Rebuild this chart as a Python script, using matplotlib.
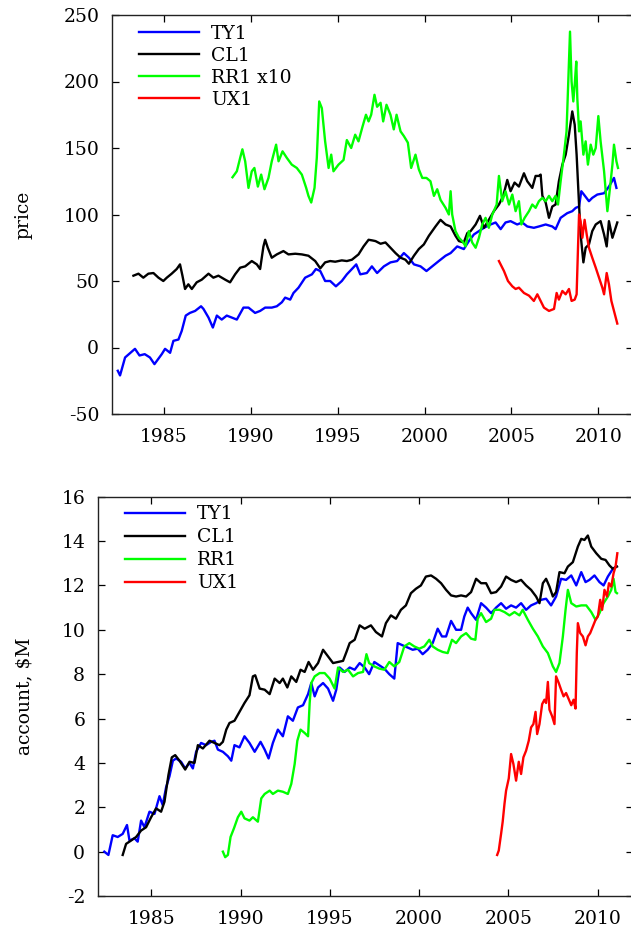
import matplotlib
matplotlib.use("Agg")
import matplotlib.pyplot as plt

# ---------------- data: top panel (price) ----------------
ty1_p_x = [1982.35, 1982.48, 1982.77, 1983.34, 1983.6, 1983.9, 1984.2, 1984.46, 1984.88, 1985.07,
           1985.36, 1985.55, 1985.84, 1986.03, 1986.26, 1986.5, 1986.8, 1987.14, 1987.28, 1987.57,
           1987.82, 1988.05, 1988.33, 1988.62, 1988.91, 1989.2, 1989.58, 1989.87, 1990.25, 1990.54,
           1990.83, 1991.21, 1991.5, 1991.79, 1991.98, 1992.27, 1992.46, 1992.75, 1993.13, 1993.52,
           1993.75, 1994.0, 1994.28, 1994.57, 1994.9, 1995.24, 1995.53, 1995.82, 1996.07, 1996.3,
           1996.68, 1996.97, 1997.27, 1997.66, 1998.04, 1998.42, 1998.81, 1999.1, 1999.39, 1999.77,
           2000.11, 2000.44, 2000.82, 2001.21, 2001.5, 2001.88, 2002.26, 2002.55, 2002.84, 2003.13,
           2003.42, 2003.8, 2004.09, 2004.38, 2004.66, 2004.95, 2005.33, 2005.62, 2005.91, 2006.29,
           2006.58, 2006.97, 2007.35, 2007.54, 2007.83, 2008.21, 2008.5, 2008.7, 2008.89, 2009.02,
           2009.17, 2009.46, 2009.65, 2009.94, 2010.33, 2010.61, 2010.9, 2011.04]
ty1_p_y = [-17.5, -21, -7.5, -1, -6, -5, -7.5, -12.5, -5, -1,
           -4, 5, 6, 12.5, 24, 26, 27.5, 31, 29, 22.5,
           15, 24, 21, 24, 22.5, 21, 30, 30, 26, 27.5,
           30, 30, 31, 34, 37.5, 36, 41, 45, 52.5, 55,
           59, 57.5, 50, 50, 46, 50, 55, 59, 62.5, 55,
           56, 61, 56, 61, 64, 65, 71, 67.5, 62.5, 61,
           57.5, 61, 65, 69, 71, 76, 74, 80, 85, 87.5,
           90, 92.5, 94, 89, 94, 95, 92.5, 94, 91, 90,
           91, 92.5, 91, 89, 97.5, 101, 102.5, 105, 106, 117.5,
           115, 110, 112.5, 115, 116, 121, 127.5, 120]

cl1_p_x = [1983.25, 1983.54, 1983.82, 1984.11, 1984.4, 1984.69, 1984.97, 1985.17, 1985.45, 1985.74,
           1985.93, 1986.07, 1986.22, 1986.41, 1986.61, 1986.89, 1987.18, 1987.57, 1987.85, 1988.14,
           1988.53, 1988.81, 1989.1, 1989.39, 1989.68, 1990.06, 1990.35, 1990.54, 1990.73, 1990.83,
           1990.98, 1991.21, 1991.5, 1991.88, 1992.17, 1992.56, 1992.94, 1993.32, 1993.71, 1994.0,
           1994.28, 1994.57, 1994.86, 1995.24, 1995.53, 1995.82, 1996.2, 1996.49, 1996.78, 1997.0,
           1997.18, 1997.47, 1997.75, 1998.04, 1998.33, 1998.62, 1998.9, 1999.1, 1999.39, 1999.67,
           1999.96, 2000.25, 2000.63, 2000.92, 2001.21, 2001.5, 2001.78, 2001.98, 2002.26, 2002.46,
           2002.65, 2002.94, 2003.19, 2003.42, 2003.7, 2003.99, 2004.28, 2004.53, 2004.76, 2004.95,
           2005.18, 2005.43, 2005.72, 2005.91, 2006.2, 2006.39, 2006.58, 2006.68, 2006.78, 2006.97,
           2007.16, 2007.35, 2007.54, 2007.73, 2007.93, 2008.12, 2008.31, 2008.5, 2008.64, 2008.75,
           2008.89, 2008.98, 2009.14, 2009.27, 2009.46, 2009.65, 2009.85, 2010.13, 2010.33, 2010.48,
           2010.61, 2010.81, 2011.09]
cl1_p_y = [54, 55.5, 52.5, 55.5, 56, 52.5, 50, 52.5, 55.5, 59,
           62.5, 54, 44, 47.5, 44, 49, 51, 55.5, 52.5, 54,
           51, 49, 55, 60, 61, 65, 62.5, 59, 76, 81,
           75, 67.5, 70, 72.5, 70, 70.5, 70, 69, 65, 59.5,
           64, 65, 64.5, 65.5, 65, 66, 70, 76, 81, 80.5,
           80, 78, 79, 75, 71, 67.5, 66, 63, 69, 74,
           77.5, 84, 91, 96, 92.5, 91, 84, 80, 79, 86,
           87.5, 92.5, 99, 90, 96, 102.5, 107.5, 114, 126, 117.5,
           124, 121, 131, 125, 120, 129, 129, 130, 114, 109,
           97.5, 106, 107.5, 125, 137.5, 145, 160, 177.5, 167.5, 145,
           107.5, 85, 64, 75, 77.5, 87.5, 92.5, 95, 85, 76,
           95, 82.5, 94]

rr1_p_x = [1988.95, 1989.2, 1989.39, 1989.52, 1989.68, 1989.87, 1990.06, 1990.21, 1990.41, 1990.6,
           1990.79, 1991.02, 1991.21, 1991.46, 1991.6, 1991.83, 1992.08, 1992.36, 1992.65, 1992.94,
           1993.19, 1993.32, 1993.48, 1993.67, 1993.8, 1993.94, 1994.09, 1994.28, 1994.48, 1994.63,
           1994.76, 1995.05, 1995.34, 1995.53, 1995.78, 1996.01, 1996.2, 1996.43, 1996.63, 1996.78,
           1996.93, 1997.12, 1997.27, 1997.47, 1997.62, 1997.81, 1998.04, 1998.23, 1998.39, 1998.62,
           1998.81, 1999.04, 1999.23, 1999.48, 1999.67, 1999.87, 2000.11, 2000.34, 2000.54, 2000.73,
           2000.92, 2001.21, 2001.4, 2001.5, 2001.59, 2001.78, 2001.98, 2002.23, 2002.36, 2002.55,
           2002.74, 2002.94, 2003.13, 2003.32, 2003.51, 2003.7, 2003.9, 2004.15, 2004.28, 2004.47,
           2004.66, 2004.86, 2005.05, 2005.24, 2005.43, 2005.57, 2005.76, 2006.01, 2006.2, 2006.39,
           2006.58, 2006.78, 2006.97, 2007.16, 2007.35, 2007.54, 2007.68, 2007.83, 2008.02, 2008.17,
           2008.27, 2008.37, 2008.46, 2008.56, 2008.64, 2008.73, 2008.79, 2008.89, 2008.98, 2009.14,
           2009.27, 2009.4, 2009.56, 2009.71, 2009.85, 2010.0, 2010.13, 2010.33, 2010.52, 2010.67,
           2010.81, 2010.9, 2011.04, 2011.13]
rr1_p_y = [128, 132.5, 142.5, 149, 140, 120, 132.5, 135, 121, 130,
           119, 127.5, 140, 152.5, 140, 147.5, 142.5, 137.5, 135, 130,
           120, 114, 109, 120, 142.5, 185, 180, 155, 135, 145,
           132.5, 137.5, 141, 156, 150, 160, 155, 166, 175, 170,
           175, 190, 181, 184, 170, 182.5, 175, 164, 175, 162.5,
           159, 154, 135, 145, 134, 127.5, 127.5, 125, 114, 119,
           111, 105, 100, 117.5, 100, 87.5, 82.5, 79, 76, 87.5,
           79, 75, 82.5, 92.5, 97.5, 90, 100, 107.5, 129, 110,
           117.5, 107.5, 115, 102.5, 110, 92.5, 97.5, 102.5, 107.5, 105,
           110, 112.5, 110, 114, 110, 114, 107.5, 125, 145, 162.5,
           200, 237.5, 200, 185, 197.5, 215, 187.5, 162.5, 170, 145,
           155, 137.5, 152.5, 145, 150, 174, 155, 132.5, 102.5, 120,
           137.5, 152.5, 140, 135]

ux1_p_x = [2004.28, 2004.57, 2004.8, 2005.05, 2005.24, 2005.43, 2005.72, 2006.01, 2006.29, 2006.49,
           2006.68, 2006.87, 2007.16, 2007.45, 2007.6, 2007.73, 2007.93, 2008.12, 2008.31, 2008.46,
           2008.64, 2008.75, 2008.83, 2008.89, 2008.98, 2009.08, 2009.21, 2009.33, 2009.46, 2009.65,
           2009.85, 2010.04, 2010.23, 2010.33, 2010.48, 2010.61, 2010.75, 2010.9, 2011.09]
ux1_p_y = [65, 57.5, 50, 46, 44, 45, 41, 39, 35, 40,
           35, 30, 27.5, 29, 41, 36, 42.5, 40, 44, 35,
           36, 40, 75, 100, 95, 82.5, 96, 85, 75, 67.5,
           60, 52.5, 45, 40, 56, 47.5, 35, 27.5, 18]

# ---------------- data: bottom panel (account, $M) ----------------
ty1_a_x = [1982.37, 1982.6, 1982.84, 1983.12, 1983.4, 1983.64, 1983.78, 1984.06, 1984.24, 1984.43,
           1984.62, 1984.9, 1985.18, 1985.46, 1985.64, 1985.83, 1986.02, 1986.21, 1986.39, 1986.67,
           1986.9, 1987.14, 1987.33, 1987.51, 1987.79, 1988.07, 1988.36, 1988.54, 1988.73, 1989.01,
           1989.29, 1989.48, 1989.66, 1989.94, 1990.22, 1990.5, 1990.79, 1991.12, 1991.35, 1991.57,
           1991.81, 1992.09, 1992.37, 1992.65, 1992.93, 1993.21, 1993.5, 1993.78, 1993.96, 1994.15,
           1994.34, 1994.62, 1994.9, 1995.18, 1995.36, 1995.55, 1995.83, 1996.11, 1996.39, 1996.67,
           1996.95, 1997.2, 1997.49, 1997.77, 1998.05, 1998.33, 1998.61, 1998.8, 1999.08, 1999.36,
           1999.64, 1999.92, 2000.2, 2000.48, 2000.76, 2001.04, 2001.28, 2001.51, 2001.79, 2002.07,
           2002.35, 2002.53, 2002.72, 2002.91, 2003.19, 2003.47, 2003.75, 2004.03, 2004.31, 2004.59,
           2004.87, 2005.15, 2005.43, 2005.71, 2005.99, 2006.27, 2006.55, 2006.83, 2007.11, 2007.39,
           2007.67, 2007.95, 2008.23, 2008.52, 2008.8, 2009.08, 2009.32, 2009.54, 2009.82, 2010.1,
           2010.33, 2010.57, 2010.85, 2011.04]
ty1_a_y = [0, -0.15, 0.74, 0.66, 0.8, 1.2, 0.5, 0.6, 0.45, 1.4,
           1.1, 1.8, 1.7, 2.5, 2.1, 2.9, 3.4, 4.1, 4.2, 4.05,
           3.75, 4.0, 3.75, 4.5, 4.9, 4.8, 4.95, 5.0, 4.6, 4.5,
           4.3, 4.1, 4.8, 4.7, 5.2, 4.9, 4.5, 4.95, 4.6, 4.2,
           4.9, 5.5, 5.2, 6.1, 5.9, 6.5, 6.6, 7.1, 7.6, 7.0,
           7.4, 7.6, 7.35, 6.8, 7.3, 8.3, 8.1, 8.3, 8.2, 8.5,
           8.3, 8.0, 8.55, 8.4, 8.25, 8.0, 7.8, 9.4, 9.3, 9.2,
           9.1, 9.15, 8.9, 9.1, 9.4, 10.05, 9.7, 9.7, 10.4, 10.0,
           10.0, 10.6, 11.0, 10.75, 10.45, 11.2, 11.0, 10.75, 11.0, 11.2,
           10.95, 11.1, 11.0, 11.2, 10.9, 11.1, 11.2, 11.35, 11.4, 11.1,
           11.5, 12.3, 12.25, 12.45, 12.0, 12.6, 12.15, 12.25, 12.45, 12.15,
           12.0, 12.4, 12.75, 12.85]

cl1_a_x = [1983.4, 1983.59, 1983.87, 1984.15, 1984.43, 1984.71, 1984.99, 1985.27, 1985.55, 1985.74,
           1985.96, 1986.15, 1986.34, 1986.58, 1986.9, 1987.14, 1987.42, 1987.61, 1987.89, 1988.26,
           1988.54, 1988.82, 1989.01, 1989.2, 1989.38, 1989.66, 1989.94, 1990.22, 1990.5, 1990.69,
           1990.82, 1991.07, 1991.35, 1991.63, 1991.91, 1992.19, 1992.37, 1992.62, 1992.84, 1993.12,
           1993.36, 1993.59, 1993.81, 1994.06, 1994.34, 1994.62, 1994.9, 1995.18, 1995.46, 1995.74,
           1995.93, 1996.11, 1996.39, 1996.67, 1996.95, 1997.3, 1997.58, 1997.92, 1998.14, 1998.42,
           1998.7, 1998.98, 1999.26, 1999.54, 1999.82, 2000.1, 2000.38, 2000.67, 2000.95, 2001.23,
           2001.51, 2001.79, 2002.07, 2002.35, 2002.63, 2002.91, 2003.19, 2003.47, 2003.75, 2004.03,
           2004.31, 2004.59, 2004.87, 2005.15, 2005.43, 2005.71, 2005.99, 2006.27, 2006.55, 2006.74,
           2006.93, 2007.11, 2007.3, 2007.49, 2007.67, 2007.86, 2008.14, 2008.33, 2008.61, 2008.89,
           2009.08, 2009.26, 2009.45, 2009.64, 2009.92, 2010.2, 2010.44, 2010.66, 2010.85, 2011.08]
cl1_a_y = [-0.15, 0.35, 0.5, 0.66, 0.95, 1.1, 1.55, 1.95, 1.8, 2.25,
           3.45, 4.25, 4.35, 4.1, 3.7, 4.05, 4.0, 4.8, 4.65, 5.0,
           4.9, 4.8, 4.95, 5.5, 5.8, 5.9, 6.3, 6.7, 7.05, 7.9,
           7.95, 7.35, 7.3, 7.1, 7.8, 7.6, 7.8, 7.4, 7.9, 7.65,
           8.2, 8.1, 8.55, 8.2, 8.5, 9.1, 8.8, 8.5, 8.55, 8.6,
           9.0, 9.4, 9.55, 10.2, 10.05, 10.2, 9.9, 9.7, 10.3, 10.65,
           10.5, 10.9, 11.1, 11.65, 11.85, 12.0, 12.4, 12.45, 12.3, 12.1,
           11.8, 11.55, 11.5, 11.55, 11.5, 11.7, 12.3, 12.1, 12.1, 11.65,
           11.7, 11.95, 12.4, 12.25, 12.15, 12.25, 12.0, 11.8, 11.5, 11.2,
           12.1, 12.3, 11.95, 11.5, 11.7, 12.6, 12.55, 12.85, 13.05, 13.75,
           14.1, 14.05, 14.25, 13.75, 13.45, 13.2, 13.15, 12.9, 12.75, 12.85]

rr1_a_x = [1989.01, 1989.14, 1989.29, 1989.44, 1989.63, 1989.85, 1990.04, 1990.22, 1990.5, 1990.69,
           1990.97, 1991.16, 1991.35, 1991.63, 1991.81, 1992.09, 1992.37, 1992.65, 1992.84, 1993.03,
           1993.18, 1993.36, 1993.59, 1993.78, 1993.87, 1993.96, 1994.15, 1994.43, 1994.71, 1994.99,
           1995.27, 1995.46, 1995.74, 1996.02, 1996.3, 1996.58, 1996.86, 1997.05, 1997.2, 1997.49,
           1997.77, 1998.05, 1998.33, 1998.61, 1998.89, 1999.17, 1999.45, 1999.73, 2000.01, 2000.29,
           2000.57, 2000.76, 2001.04, 2001.32, 2001.6, 2001.84, 2002.07, 2002.35, 2002.63, 2002.91,
           2003.15, 2003.28, 2003.47, 2003.75, 2004.03, 2004.22, 2004.5, 2004.78, 2005.06, 2005.34,
           2005.62, 2005.8, 2006.09, 2006.37, 2006.65, 2006.93, 2007.21, 2007.49, 2007.67, 2007.86,
           2008.05, 2008.2, 2008.33, 2008.52, 2008.8, 2009.08, 2009.36, 2009.64, 2009.88, 2010.1,
           2010.33, 2010.57, 2010.76, 2010.89, 2011.0, 2011.08]
rr1_a_y = [0, -0.25, -0.15, 0.66, 1.05, 1.55, 1.8, 1.5, 1.4, 1.55,
           1.35, 2.4, 2.6, 2.75, 2.6, 2.75, 2.7, 2.6, 3.05, 3.95,
           5.0, 5.5, 5.35, 5.2, 6.7, 7.6, 7.9, 8.05, 8.05, 7.8,
           7.35, 8.3, 8.1, 8.2, 7.9, 8.05, 8.1, 8.9, 8.5, 8.35,
           8.25, 8.2, 8.55, 8.35, 8.55, 9.25, 9.4, 9.25, 9.15, 9.25,
           9.55, 9.25, 9.1, 9.0, 8.95, 9.55, 9.4, 9.7, 9.85, 9.6,
           9.55, 10.5, 10.75, 10.35, 10.5, 10.9, 10.9, 10.8, 10.65, 10.8,
           10.65, 10.9, 10.45, 10.05, 9.7, 9.25, 8.95, 8.35, 8.1, 8.5,
           9.7, 10.9, 11.8, 11.2, 11.05, 11.1, 11.1, 10.8, 10.45, 10.75,
           11.2, 11.5, 11.8, 12.3, 11.7, 11.65]

ux1_a_x = [2004.37, 2004.46, 2004.59, 2004.68, 2004.78, 2004.87, 2005.02, 2005.15, 2005.28, 2005.43,
           2005.58, 2005.71, 2005.84, 2005.99, 2006.14, 2006.27, 2006.4, 2006.52, 2006.61, 2006.74,
           2006.89, 2007.02, 2007.11, 2007.21, 2007.3, 2007.45, 2007.58, 2007.67, 2007.82, 2007.95,
           2008.09, 2008.23, 2008.39, 2008.52, 2008.65, 2008.76, 2008.83, 2008.89, 2009.02, 2009.17,
           2009.32, 2009.45, 2009.58, 2009.73, 2009.88, 2010.01, 2010.14, 2010.25, 2010.38, 2010.52,
           2010.63, 2010.76, 2010.89, 2011.0, 2011.1]
ux1_a_y = [-0.15, 0.05, 0.8, 1.35, 2.15, 2.75, 3.3, 4.4, 3.95, 3.2,
           4.05, 3.5, 4.25, 4.55, 5.0, 5.6, 5.75, 6.3, 5.3, 5.75,
           6.65, 6.85, 6.7, 7.65, 6.4, 6.1, 5.75, 7.9, 7.6, 7.3,
           7.0, 7.15, 6.85, 6.6, 6.85, 6.45, 8.95, 10.3, 9.85, 9.7,
           9.3, 9.7, 9.85, 10.15, 10.45, 10.6, 11.35, 10.9, 11.8, 11.5,
           12.1, 11.95, 12.55, 12.85, 13.45]

top_labels = ["TY1", "CL1", "RR1 x10", "UX1"]
bottom_labels = ["TY1", "CL1", "RR1", "UX1"]
colors = ["#0000ff", "#000000", "#00ff00", "#ff0000"]
xticks = [1985, 1990, 1995, 2000, 2005, 2010]
top_yticks = [-50, 0, 50, 100, 150, 200, 250]
bottom_yticks = [-2, 0, 2, 4, 6, 8, 10, 12, 14, 16]

# ---------------- drawing ----------------
FS = 13.5
plt.rcParams["font.family"] = ["DejaVu Serif"]
plt.rcParams["font.size"] = FS
plt.rcParams["axes.unicode_minus"] = False

W, H = 631, 936
fig = plt.figure(figsize=(W / 100, H / 100), dpi=100)

def px_axes(left, top, right, bottom):
    return fig.add_axes([left / W, 1 - bottom / H, (right - left) / W, (bottom - top) / H])

ax1 = px_axes(111.7, 15, 633.1, 414)
ax2 = px_axes(97.7, 496.7, 633.4, 896)

top_series = [(ty1_p_x, ty1_p_y), (cl1_p_x, cl1_p_y), (rr1_p_x, rr1_p_y), (ux1_p_x, ux1_p_y)]
bot_series = [(ty1_a_x, ty1_a_y), (cl1_a_x, cl1_a_y), (rr1_a_x, rr1_a_y), (ux1_a_x, ux1_a_y)]

for (x, y), lab, c in zip(top_series, top_labels, colors):
    ax1.plot(x, y, color=c, lw=1.7, label=lab)
for (x, y), lab, c in zip(bot_series, bottom_labels, colors):
    ax2.plot(x, y, color=c, lw=1.7, label=lab)

for ax, yt in ((ax1, top_yticks), (ax2, bottom_yticks)):
    ax.set_xlim(1982, 2012)
    ax.set_ylim(yt[0], yt[-1])
    ax.set_xticks(xticks)
    ax.set_yticks(yt)
    ax.tick_params(direction="in", length=5, width=0.9, top=True, right=True,
                   labelsize=FS, colors="black")
    ax.tick_params(axis="y", pad=9)
    ax.tick_params(axis="x", pad=10)
    for s in ax.spines.values():
        s.set_linewidth(1.0)
        s.set_color("#222222")

ax1.set_ylabel("price", fontsize=FS)
ax1.yaxis.set_label_coords(-0.151, 0.5)
ax2.set_ylabel("account, $M", fontsize=FS)
ax2.yaxis.set_label_coords(-0.121, 0.5)

for ax, x0, y0, ls in ((ax1, 27.3 / 521.4, 0.975, 0.21), (ax2, 27.3 / 535.7, 0.979, 0.27)):
    ax.legend(loc="upper left", bbox_to_anchor=(x0, y0), frameon=False,
              borderpad=0, borderaxespad=0, handlelength=3.2, handletextpad=0.65,
              labelspacing=ls, fontsize=FS)

fig.savefig("out.png", dpi=100)
